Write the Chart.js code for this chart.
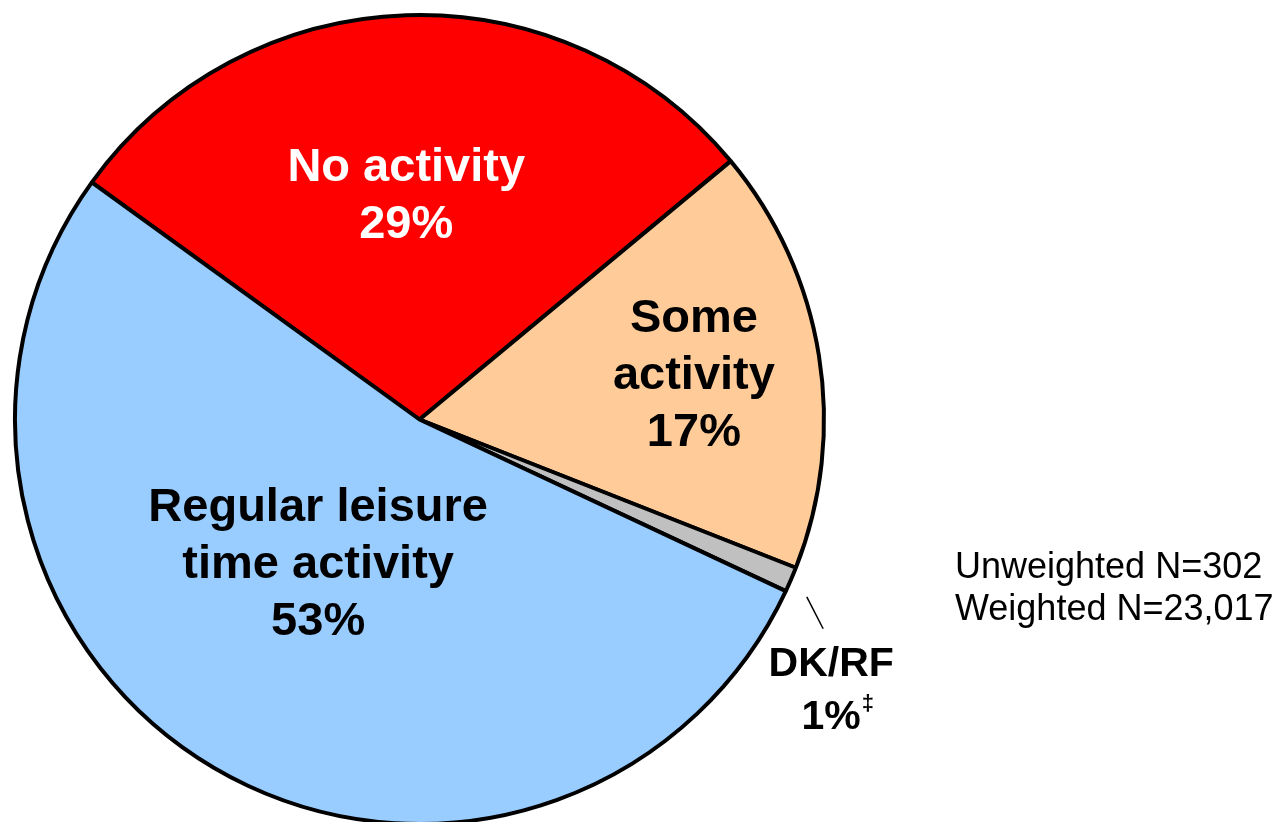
<!DOCTYPE html>
<html>
<head>
<meta charset="utf-8">
<title>Leisure time activity</title>
<script src="https://cdn.jsdelivr.net/npm/chart.js@4.4.1/dist/chart.umd.min.js"></script>
<style>
  html, body { margin: 0; padding: 0; background: #ffffff; overflow: hidden; }
  #wrap { position: absolute; left: 0; top: 0; width: 1288px; height: 830px; }
</style>
</head>
<body>
<div id="wrap"><canvas id="pie"></canvas></div>
<script>
// Slice categories, shares (%) and the text printed on each slice
const categories = ['No activity', 'Some activity', 'DK/RF', 'Regular leisure time activity'];
const shares = [29, 17, 1, 53];
const sliceLabels = [
  ['No activity', '29%'],
  ['Some', 'activity', '17%'],
  ['DK/RF', '1%'],
  ['Regular leisure', 'time activity', '53%']
];
const sampleNotes = ['Unweighted N=302', 'Weighted N=23,017'];

const sliceColors = ['#FF0000', '#FFCC99', '#C0C0C0', '#99CCFF'];
const FONT = '"Liberation Sans", Arial, Helvetica, sans-serif';

// Where each slice's text sits: fraction of the radius and a small angular nudge (deg)
const labelPlacement = [
  { r: 0.553, nudge: -1.5, color: '#ffffff' },
  { r: 0.687, nudge: 0.0, color: '#000000' },
  null,
  { r: 0.438, nudge: 4.4, color: '#000000' }
];

const sliceText = {
  id: 'sliceText',
  afterDatasetsDraw(chart) {
    const ctx = chart.ctx;
    const arcs = chart.getDatasetMeta(0).data;
    ctx.save();
    ctx.textAlign = 'center';
    ctx.textBaseline = 'middle';

    arcs.forEach((arc, i) => {
      const p = arc.getProps(['x', 'y', 'startAngle', 'endAngle', 'outerRadius'], true);
      const mid = (p.startAngle + p.endAngle) / 2;
      const place = labelPlacement[i];
      const lines = sliceLabels[i];
      if (place) {
        const a = mid + place.nudge * Math.PI / 180;
        const cx = p.x + Math.cos(a) * p.outerRadius * place.r;
        const cy = p.y + Math.sin(a) * p.outerRadius * place.r;
        const step = 57;
        ctx.fillStyle = place.color;
        ctx.font = 'bold 47px ' + FONT;
        lines.forEach((t, k) => {
          ctx.fillText(t, cx, cy + (k - (lines.length - 1) / 2) * step);
        });
      } else {
        // small slice: label outside with a leader line
        const a1 = mid + 1.3 * Math.PI / 180;
        const a2 = mid + 4.1 * Math.PI / 180;
        const x1 = p.x + Math.cos(a1) * p.outerRadius * 1.053;
        const y1 = p.y + Math.sin(a1) * p.outerRadius * 1.053;
        const x2 = p.x + Math.cos(a2) * p.outerRadius * 1.124;
        const y2 = p.y + Math.sin(a2) * p.outerRadius * 1.124;
        ctx.strokeStyle = '#000000';
        ctx.lineWidth = 1.5;
        ctx.beginPath();
        ctx.moveTo(x1, y1);
        ctx.lineTo(x2, y2);
        ctx.stroke();
        const tx = x2 + 8;
        const ty = y2 + 36;
        ctx.fillStyle = '#000000';
        ctx.font = 'bold 41px ' + FONT;
        ctx.fillText(lines[0], tx, ty);
        ctx.fillText(lines[1], tx, ty + 53);
        const w = ctx.measureText(lines[1]).width;
        ctx.font = 'bold 22px ' + FONT;
        ctx.textAlign = 'left';
        ctx.fillText('\u2021', tx + w / 2 + 1, ty + 39);
        ctx.textAlign = 'center';
      }
    });

    // sample size note
    ctx.fillStyle = '#000000';
    ctx.font = '36px ' + FONT;
    ctx.textAlign = 'left';
    ctx.textBaseline = 'alphabetic';
    ctx.fillText(sampleNotes[0], 955, 578);
    ctx.fillText(sampleNotes[1], 955, 620);
    ctx.restore();
  }
};

new Chart(document.getElementById('pie'), {
  type: 'pie',
  data: {
    labels: categories,
    datasets: [{
      data: shares,
      backgroundColor: sliceColors,
      borderColor: '#000000',
      borderWidth: 4,
      hoverOffset: 0
    }]
  },
  options: {
    responsive: true,
    maintainAspectRatio: false,
    animation: false,
    rotation: 305.9,
    layout: { padding: { left: 13, top: 13, right: 462, bottom: 4 } },
    plugins: {
      legend: { display: false },
      tooltip: { enabled: false },
      title: { display: false }
    },
    events: []
  },
  plugins: [sliceText]
});
</script>
</body>
</html>
